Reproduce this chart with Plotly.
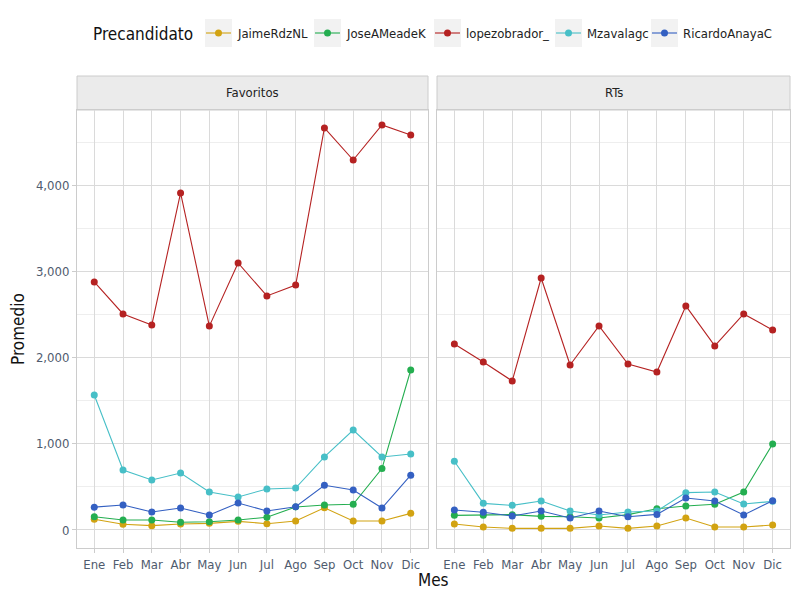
import plotly.graph_objects as go

meses = ["Ene", "Feb", "Mar", "Abr", "May", "Jun", "Jul", "Ago", "Sep", "Oct", "Nov", "Dic"]
candidatos = ["JaimeRdzNL", "JoseAMeadeK", "lopezobrador_", "Mzavalagc", "RicardoAnayaC"]
colores = ["#D2A312", "#24AE50", "#B52222", "#47BFC7", "#3460C2"]

fav_jaime = [124, 66, 50, 70, 77, 100, 73, 104, 257, 104, 104, 193]
fav_jose = [154, 116, 116, 89, 96, 116, 147, 267, 290, 298, 712, 1856]
fav_lopez = [2877, 2506, 2378, 3910, 2365, 3097, 2715, 2842, 4664, 4292, 4698, 4582]
fav_mzav = [1566, 696, 580, 661, 441, 383, 476, 487, 847, 1160, 847, 882]
fav_ricardo = [265, 290, 209, 255, 174, 313, 220, 270, 518, 464, 255, 636]

rt_jaime = [70, 35, 19, 19, 19, 46, 19, 46, 139, 35, 35, 58]
rt_jose = [170, 170, 178, 158, 154, 139, 178, 247, 278, 298, 441, 998]
rt_lopez = [2158, 1949, 1729, 2923, 1914, 2367, 1926, 1833, 2599, 2135, 2506, 2320]
rt_mzav = [797, 309, 286, 336, 220, 174, 209, 220, 433, 441, 301, 332]
rt_ricardo = [232, 205, 162, 220, 139, 220, 154, 181, 371, 336, 174, 340]

fav = [fav_jaime, fav_jose, fav_lopez, fav_mzav, fav_ricardo]
rts = [rt_jaime, rt_jose, rt_lopez, rt_mzav, rt_ricardo]
paneles = ["Favoritos", "RTs"]

FONT = "Liberation Sans Narrow, DejaVu Sans Condensed, Roboto, sans-serif"

fig = go.Figure()
for i, name in enumerate(candidatos):
    for j, data in enumerate([fav, rts]):
        fig.add_trace(go.Scatter(
            x=meses, y=data[i], mode="lines+markers", name=name,
            legendgroup=name, showlegend=False,
            line=dict(color=colores[i], width=1.1),
            marker=dict(color=colores[i], size=7),
            xaxis="x" if j == 0 else "x2", yaxis="y" if j == 0 else "y2",
        ))

OFF = 8
W, H = 800 - 2 * OFF, 600 - 2 * OFF
def px(x): return (x - OFF) / W
def py(y): return 1 - (y - OFF) / H

grid = "#DADADA"
tickc = "#4F5B6E"
common_x = dict(type="category", categoryorder="array", categoryarray=meses,
                range=[-0.6, 11.6], showgrid=True, gridcolor=grid, gridwidth=1,
                zeroline=False, ticks="outside", ticklen=4, tickcolor="#CCCCCC",
                tickfont=dict(size=13, color=tickc), showline=True, linecolor="#CCCCCC",
                mirror=True, tickangle=0)
common_y = dict(range=[-209, 4872], tickvals=[0, 1000, 2000, 3000, 4000],
                ticktext=["0", "1,000", "2,000", "3,000", "4,000"],
                showgrid=True, gridcolor=grid, gridwidth=1, zeroline=False,
                ticks="outside", ticklen=4, tickcolor="#CCCCCC",
                tickfont=dict(size=13, color=tickc), showline=True, linecolor="#CCCCCC",
                mirror=True,
                minor=dict(tickvals=[500, 1500, 2500, 3500, 4500], showgrid=True,
                           gridcolor="#EEEEEE", gridwidth=1, ticks=""))

fig.update_layout(
    width=W, height=H, margin=dict(l=0, r=0, t=0, b=0, autoexpand=False),
    paper_bgcolor="white", plot_bgcolor="white",
    font=dict(family=FONT, color="#222222"),
    xaxis=dict(common_x, domain=[px(77), px(428)], anchor="y"),
    xaxis2=dict(common_x, domain=[px(437), px(790)], anchor="y2"),
    yaxis=dict(common_y, domain=[py(548), py(110)], anchor="x"),
    yaxis2=dict(common_y, domain=[py(548), py(110)], anchor="x2", showticklabels=False,
                ticks=""),
    showlegend=False,
)

shapes = []
annotations = []
# facet strips
for j, (x0, x1) in enumerate([(77, 428), (437, 790)]):
    shapes.append(dict(type="rect", xref="paper", yref="paper", x0=px(x0), x1=px(x1),
                       y0=py(110), y1=py(76), fillcolor="#EBEBEB",
                       line=dict(color="#CCCCCC", width=1), layer="below"))
    annotations.append(dict(text=paneles[j], xref="paper", yref="paper",
                            x=(px(x0) + px(x1)) / 2, y=py(92), xanchor="center",
                            yanchor="middle", showarrow=False,
                            font=dict(size=13, color="#222222")))
# axis titles
annotations.append(dict(text="Mes", xref="paper", yref="paper", x=px(433), y=0,
                        xanchor="center", yanchor="bottom",
                        showarrow=False, font=dict(size=17, color="#111111")))
annotations.append(dict(text="Promedio", xref="paper", yref="paper", x=px(18), y=py(329),
                        xanchor="center", yanchor="middle",
                        showarrow=False, textangle=-90, font=dict(size=17, color="#111111")))

# legend (ggplot-style, keys on light grey squares)
annotations.append(dict(text="Precandidato", xref="paper", yref="paper", x=px(91), y=py(34),
                        xanchor="left", yanchor="middle", showarrow=False,
                        font=dict(size=17, color="#111111")))
key_left = [205, 314, 434, 555, 651]
for i, name in enumerate(candidatos):
    k0 = key_left[i]
    k1 = k0 + 27
    kc = (k0 + k1) / 2
    shapes.append(dict(type="rect", xref="paper", yref="paper", x0=px(k0), x1=px(k1),
                       y0=py(47), y1=py(19), fillcolor="#F2F2F2", line=dict(width=0)))
    shapes.append(dict(type="line", xref="paper", yref="paper", x0=px(k0 + 1), x1=px(k1 - 1),
                       y0=py(33), y1=py(33), line=dict(color=colores[i], width=1.1)))
    shapes.append(dict(type="circle", xref="paper", yref="paper",
                       x0=px(kc - 3.5), x1=px(kc + 3.5), y0=py(36.5), y1=py(29.5),
                       fillcolor=colores[i], line=dict(width=0)))
    annotations.append(dict(text=name, xref="paper", yref="paper", x=px(k1 + 3), y=py(33),
                            xanchor="left", yanchor="middle", showarrow=False,
                            font=dict(size=13, color="#222222")))

fig.update_layout(shapes=shapes, annotations=annotations)

fig.write_html("out.html")
